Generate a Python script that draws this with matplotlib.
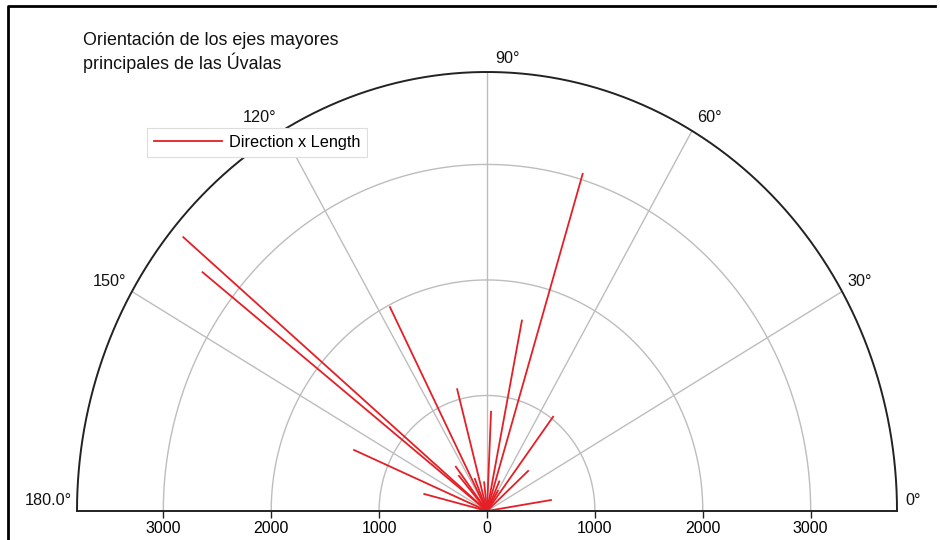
import numpy as np
import matplotlib
matplotlib.use("Agg")
import matplotlib.pyplot as plt
from matplotlib.lines import Line2D

plt.rcParams['font.family'] = ['Liberation Sans', 'DejaVu Sans']

# Data: direction (degrees) and length of each principal axis
directions = [139.9, 141.9, 117.0, 156.8, 165.8, 104.7, 127.0, 130.5,
              87.5, 78.9, 73.1, 53.1, 42.3, 9.1, 112.0, 96.0, 66.0, 60.0]
lengths = [3680, 3350, 1980, 1340, 600, 1090, 480, 400,
           860, 1680, 3050, 1020, 515, 600, 300, 250, 280, 200]

grid_radii = [1000, 2000, 3000]
spoke_angles = [30, 60, 90, 120, 150]
angle_labels = ["0°", "30°", "60°", "90°", "120°", "150°", "180.0°"]
label_angles = [0, 30, 60, 90, 120, 150, 180]
xtick_values = [-3000, -2000, -1000, 0, 1000, 2000, 3000]
rmax = 3800

title = "Orientación de los ejes mayores\nprincipales de las Úvalas"
legend_label = "Direction x Length"

red = "#e41f26"
grid_col = "#bdbdbd"

fig = plt.figure(figsize=(9.4, 5.4), dpi=100)
ax = fig.add_axes([77/940, 1 - 511/540, 820/940, 439/540])
ax.set_xlim(-rmax, rmax)
ax.set_ylim(0, rmax)

t = np.linspace(0, np.pi, 400)
# grid circles
for r in grid_radii:
    ax.plot(r*np.cos(t), r*np.sin(t), color=grid_col, lw=1.0, zorder=1)
# spokes
for a in spoke_angles:
    th = np.deg2rad(a)
    ax.plot([0, rmax*np.cos(th)], [0, rmax*np.sin(th)], color=grid_col, lw=1.0, zorder=1)
# outer arc
ax.plot(rmax*np.cos(t), rmax*np.sin(t), color="#222222", lw=1.4, zorder=3, clip_on=False)

# data lines
first = True
for d, L in zip(directions, lengths):
    th = np.deg2rad(d)
    ax.plot([0, L*np.cos(th)], [0, L*np.sin(th)], color=red, lw=1.3, zorder=2,
            label=legend_label if first else None)
    first = False

# angle labels
offsets = {0: (6, 2, 'left', 'bottom'), 30: (4, 2, 'left', 'bottom'),
           60: (4, 4, 'left', 'bottom'), 90: (6, 4, 'left', 'bottom'),
           120: (-4, 4, 'right', 'bottom'), 150: (-4, 2, 'right', 'bottom'),
           180: (-4, 2, 'right', 'bottom')}
for lab, a in zip(angle_labels, label_angles):
    th = np.deg2rad(a)
    ox, oy, ha, va = offsets[a]
    ax.annotate(lab, (rmax*np.cos(th), rmax*np.sin(th)), xytext=(ox, oy),
                textcoords='offset points', ha=ha, va=va, fontsize=11.7, color="#111111",
                annotation_clip=False)

for s in ['top', 'left', 'right']:
    ax.spines[s].set_visible(False)
ax.spines['bottom'].set_linewidth(1.4)
ax.spines['bottom'].set_color("#222222")
ax.set_yticks([])
ax.set_xticks(xtick_values)
ax.set_xticklabels([str(abs(v)) for v in xtick_values], fontsize=11.5)
ax.tick_params(axis='x', direction='out', length=5, width=1.0, color="#222222", pad=2.5)

leg = ax.legend(loc='upper left', bbox_to_anchor=(147/940, 1 - 128/540),
                bbox_transform=fig.transFigure, borderaxespad=0, fontsize=11.7,
                handlelength=4.2, fancybox=False, framealpha=1, edgecolor="#dddddd",
                borderpad=0.42, handletextpad=0.4)
leg.get_frame().set_linewidth(0.8)

fig.text(83/940, 1 - 73/540, title, fontsize=12.9, ha='left', va='bottom',
         linespacing=1.2, color="#111111")
# outer frame: left and top edges only
fx0, fx1, fy1 = 8/940, 935/940, 1 - 6/540
fig.lines.append(Line2D([fx0, fx0, fx1], [0, fy1, fy1], transform=fig.transFigure,
                        color="black", lw=2.0))

fig.savefig("out.png", dpi=100, facecolor="white")
